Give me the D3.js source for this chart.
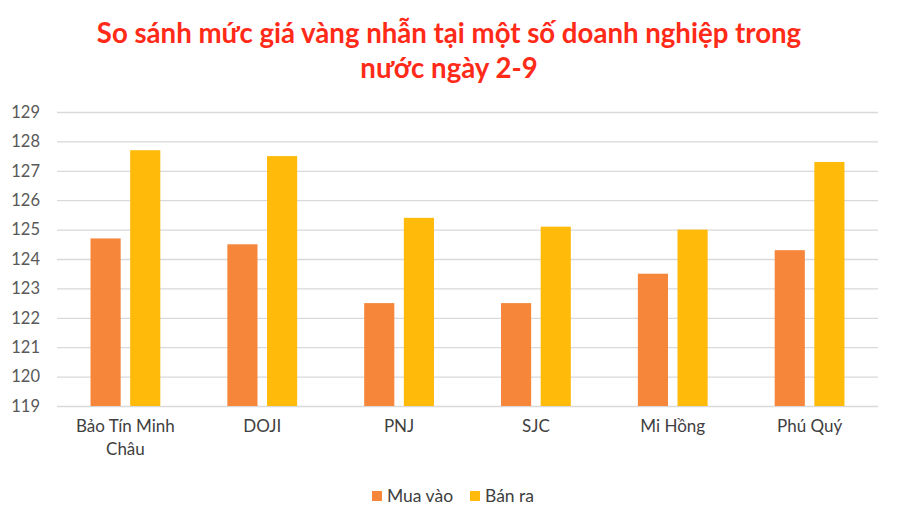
<!DOCTYPE html>
<html>
<head>
<meta charset="utf-8">
<script src="https://cdn.jsdelivr.net/npm/d3@7"></script>
<style>
  body { margin: 0; background: #fff; }
</style>
</head>
<body>
<div id="chart"></div>
<script>
const companies = ["Bảo Tín Minh Châu", "DOJI", "PNJ", "SJC", "Mi Hồng", "Phú Quý"];
const series = ["Mua vào", "Bán ra"];
const muaVao = [124.7, 124.5, 122.5, 122.5, 123.5, 124.3];
const banRa = [127.7, 127.5, 125.4, 125.1, 125.0, 127.3];
const yTicks = [119, 120, 121, 122, 123, 124, 125, 126, 127, 128, 129];
const colors = ["#F5863A", "#FFBA0A"];
const titleLines = ["So sánh mức giá vàng nhẫn tại một số doanh nghiệp trong", "nước ngày 2-9"];

const width = 900, height = 520;
const margin = { top: 112, right: 22, bottom: 114, left: 57 };
const plotWidth = width - margin.left - margin.right;
const plotHeight = height - margin.top - margin.bottom;

const rows = companies.map((c, i) => ({ name: c, values: [muaVao[i], banRa[i]] }));

const svg = d3.select("#chart")
  .append("svg")
  .attr("width", width)
  .attr("height", height)
  .style("background-color", "#ffffff");

// title
svg.append("g")
  .selectAll("text")
  .data(titleLines)
  .enter()
  .append("text")
  .attr("x", 449)
  .attr("y", (d, i) => 43 + i * 35)
  .attr("text-anchor", "middle")
  .attr("font-family", "Lato")
  .attr("font-weight", "bold")
  .attr("font-size", "27.6px")
  .attr("fill", "#FF2A17")
  .text(d => d);

const g = svg.append("g")
  .attr("transform", `translate(${margin.left}, ${margin.top})`);

const x0 = d3.scaleBand()
  .domain(companies)
  .range([0, plotWidth])
  .paddingInner(0.49)
  .paddingOuter(0.245);

const x1 = d3.scaleBand()
  .domain(series)
  .range([0, x0.bandwidth()])
  .paddingInner(0.24);

const yScale = d3.scaleLinear()
  .domain([119, 129])
  .range([plotHeight, 0]);

// gridlines
const yAxis = d3.axisLeft(yScale)
  .tickValues(yTicks)
  .tickSize(-plotWidth)
  .tickPadding(17)
  .tickFormat(d3.format("d"));

const yg = g.append("g").call(yAxis);
yg.select(".domain").remove();
yg.selectAll(".tick line").attr("stroke", "#d9d9d9").attr("stroke-width", 1.3);
yg.selectAll(".tick text")
  .attr("font-family", "Lato")
  .attr("font-size", "16.5px")
  .attr("fill", "#595959");

// bars
const groups = g.selectAll(".group")
  .data(rows)
  .enter()
  .append("g")
  .attr("class", "group")
  .attr("transform", d => `translate(${x0(d.name)}, 0)`);

groups.selectAll("rect")
  .data(d => d.values.map((v, i) => ({ key: series[i], value: v, idx: i })))
  .enter()
  .append("rect")
  .attr("x", d => x1(d.key))
  .attr("width", x1.bandwidth())
  .attr("y", d => yScale(d.value))
  .attr("height", d => plotHeight - yScale(d.value))
  .attr("fill", d => colors[d.idx]);

// x axis labels (wrapped like Excel)
const xAxis = d3.axisBottom(x0).tickSize(0).tickPadding(14);
const xg = g.append("g")
  .attr("transform", `translate(0, ${plotHeight})`)
  .call(xAxis);
xg.select(".domain").remove();
xg.selectAll(".tick text")
  .attr("font-family", "Lato")
  .attr("font-size", "17px")
  .attr("fill", "#404040")
  .each(function(d) {
    const el = d3.select(this);
    if (d === "Bảo Tín Minh Châu") {
      el.text(null);
      el.append("tspan").attr("x", 0).attr("dy", "0.71em").text("Bảo Tín Minh");
      el.append("tspan").attr("x", 0).attr("dy", "1.35em").text("Châu");
    }
  });

// legend
const legend = svg.append("g")
  .attr("transform", "translate(372, 491)");

const legendX = [0, 98];
const items = legend.selectAll(".item")
  .data(series)
  .enter()
  .append("g")
  .attr("class", "item")
  .attr("transform", (d, i) => `translate(${legendX[i]}, 0)`);

items.append("rect")
  .attr("width", 10)
  .attr("height", 10)
  .attr("fill", (d, i) => colors[i]);

items.append("text")
  .attr("x", 15)
  .attr("y", 10.5)
  .attr("font-family", "Lato")
  .attr("font-size", "17.5px")
  .attr("fill", "#404040")
  .text(d => d);
</script>
</body>
</html>
